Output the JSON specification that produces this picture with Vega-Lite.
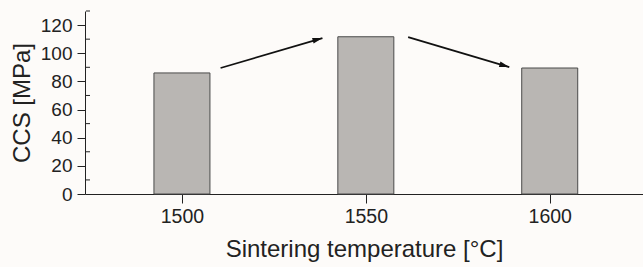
{
  "$schema": "https://vega.github.io/schema/vega-lite/v6.json",
  "width": 558,
  "height": 183,
  "padding": {"left": 85, "top": 11, "right": 0, "bottom": 73},
  "autosize": {"type": "none"},
  "background": "#fdfbf9",
  "config": {
    "view": {"stroke": null},
    "font": "Liberation Sans",
    "axis": {"labelFont": "Liberation Sans", "titleFont": "Liberation Sans", "domainColor": "#222", "tickColor": "#222", "labelColor": "#222", "titleColor": "#222", "grid": false, "titleFontWeight": "normal", "labelOverlap": false}
  },
  "datasets": {
    "bars": [
      {"temp": 1500, "ccs": 86},
      {"temp": 1550, "ccs": 111.7},
      {"temp": 1600, "ccs": 89.5}
    ],
    "arrows": [
      {"id": "up", "x": 1510.5, "y": 89.5, "x2": 1538.2, "y2": 110.8},
      {"id": "down", "x": 1561.5, "y": 111.5, "x2": 1589, "y2": 90.2}
    ],
    "minor": [
      {"v": 10}, {"v": 30}, {"v": 50}, {"v": 70}, {"v": 90}, {"v": 110}, {"v": 130}
    ]
  },
  "layer": [
    {
      "data": {"name": "bars"},
      "mark": {"type": "bar", "width": 56, "fill": "#b9b6b3", "stroke": "#4a4a4a", "strokeWidth": 1},
      "encoding": {
        "x": {"field": "temp", "type": "quantitative", "scale": {"domain": [1475, 1624], "nice": false, "zero": false},
          "axis": {"values": [1500, 1550, 1600], "tickCount": 20, "format": "d", "title": "Sintering temperature [°C]", "labelFontSize": 19.5, "titleFontSize": 24, "tickSize": 9, "labelPadding": 4, "titlePadding": 12}},
        "y": {"field": "ccs", "type": "quantitative", "scale": {"domain": [0, 130], "nice": false},
          "axis": {"values": [0, 20, 40, 60, 80, 100, 120], "tickCount": 20, "tickSize": 8, "title": "CCS [MPa]", "labelFontSize": 19, "titleFontSize": 24, "labelPadding": 5, "titlePadding": 6}}
      }
    },
    {
      "data": {"name": "minor"},
      "mark": {"type": "tick", "orient": "horizontal", "size": 4, "thickness": 1, "xOffset": -2, "color": "#222", "opacity": 1},
      "encoding": {
        "x": {"datum": 1475, "type": "quantitative"},
        "y": {"field": "v", "type": "quantitative"}
      }
    },
    {
      "data": {"name": "arrows"},
      "mark": {"type": "rule", "strokeWidth": 1.8, "color": "#111"},
      "encoding": {
        "x": {"field": "x", "type": "quantitative"},
        "y": {"field": "y", "type": "quantitative"},
        "x2": {"field": "x2"},
        "y2": {"field": "y2"}
      }
    },
    {
      "data": {"name": "arrows"},
      "transform": [{"filter": "datum.id === 'up'"}],
      "mark": {"type": "point", "shape": "M0,0L0.45,1.6L-0.45,1.6Z", "size": 156, "angle": 74, "filled": true, "color": "#111", "opacity": 1},
      "encoding": {
        "x": {"field": "x2", "type": "quantitative"},
        "y": {"field": "y2", "type": "quantitative"}
      }
    },
    {
      "data": {"name": "arrows"},
      "transform": [{"filter": "datum.id === 'down'"}],
      "mark": {"type": "point", "shape": "M0,0L0.45,1.6L-0.45,1.6Z", "size": 156, "angle": 106, "filled": true, "color": "#111", "opacity": 1},
      "encoding": {
        "x": {"field": "x2", "type": "quantitative"},
        "y": {"field": "y2", "type": "quantitative"}
      }
    }
  ]
}
